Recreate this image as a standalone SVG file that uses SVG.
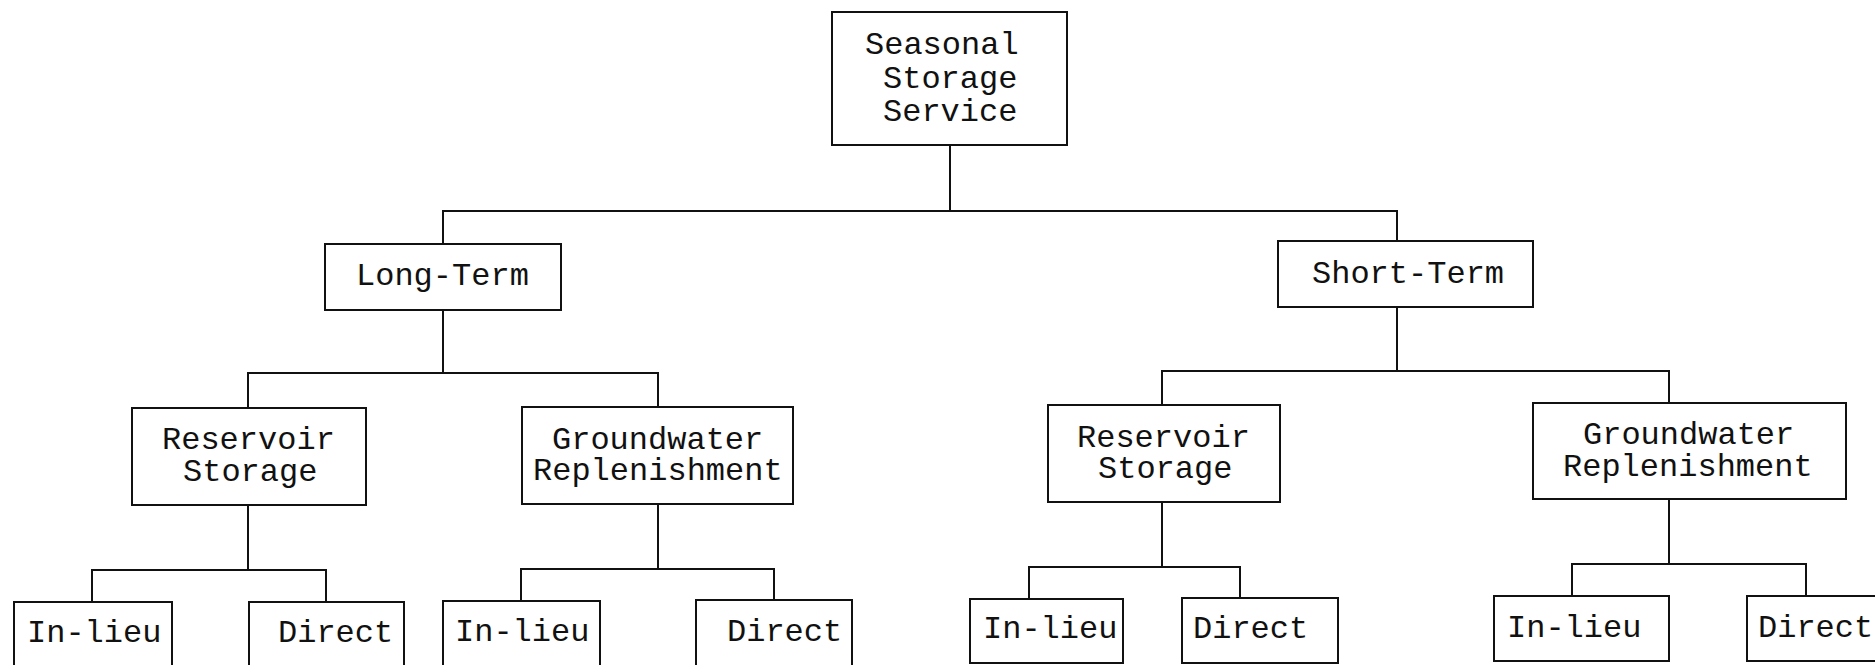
<svg xmlns="http://www.w3.org/2000/svg" width="1875" height="665" viewBox="0 0 1875 665">
<style>
.box{fill:#fff;stroke:#111;stroke-width:2}
.lbl{font-family:"Liberation Mono","DejaVu Sans Mono",monospace;font-size:32px;fill:#111}
.con{fill:none;stroke:#111;stroke-width:2}
</style>
<rect width="1875" height="665" fill="#fff"/>
<g id="connectors">
<path class="con" d="M950,145 V211"/>
<path class="con" d="M443,244 V211 H1397 V241"/>
<path class="con" d="M443,310 V373"/>
<path class="con" d="M248,408 V373 H658 V407"/>
<path class="con" d="M1397,307 V371"/>
<path class="con" d="M1162,405 V371 H1669 V403"/>
<path class="con" d="M248,505 V570"/>
<path class="con" d="M92,602 V570 H326 V602"/>
<path class="con" d="M658,504 V569"/>
<path class="con" d="M521,601 V569 H774 V600"/>
<path class="con" d="M1162,502 V567"/>
<path class="con" d="M1029,599 V567 H1240 V598"/>
<path class="con" d="M1669,499 V564"/>
<path class="con" d="M1572,596 V564 H1806 V596"/>
</g>
<g id="root">
<rect class="box" x="832" y="12" width="235" height="133"/>
<text class="lbl" x="865" y="54">Seasonal</text>
<text class="lbl" x="883" y="88">Storage</text>
<text class="lbl" x="883" y="121">Service</text>
</g>
<g id="long-term">
<rect class="box" x="325" y="244" width="236" height="66"/>
<text class="lbl" x="356" y="285">Long-Term</text>
</g>
<g id="short-term">
<rect class="box" x="1278" y="241" width="255" height="66"/>
<text class="lbl" x="1312" y="283">Short-Term</text>
</g>
<g id="lt-reservoir">
<rect class="box" x="132" y="408" width="234" height="97"/>
<text class="lbl" x="162" y="449">Reservoir</text>
<text class="lbl" x="183" y="481">Storage</text>
</g>
<g id="lt-groundwater">
<rect class="box" x="522" y="407" width="271" height="97"/>
<text class="lbl" x="552" y="449">Groundwater</text>
<text class="lbl" x="533" y="480">Replenishment</text>
</g>
<g id="st-reservoir">
<rect class="box" x="1048" y="405" width="232" height="97"/>
<text class="lbl" x="1077" y="447">Reservoir</text>
<text class="lbl" x="1098" y="478">Storage</text>
</g>
<g id="st-groundwater">
<rect class="box" x="1533" y="403" width="313" height="96"/>
<text class="lbl" x="1583" y="444">Groundwater</text>
<text class="lbl" x="1563" y="476">Replenishment</text>
</g>
<g id="lt-res-inlieu">
<rect class="box" x="14" y="602" width="158" height="80"/>
<text class="lbl" x="27" y="642">In-lieu</text>
</g>
<g id="lt-res-direct">
<rect class="box" x="249" y="602" width="155" height="80"/>
<text class="lbl" x="278" y="642">Direct</text>
</g>
<g id="lt-gw-inlieu">
<rect class="box" x="443" y="601" width="157" height="80"/>
<text class="lbl" x="455" y="641">In-lieu</text>
</g>
<g id="lt-gw-direct">
<rect class="box" x="696" y="600" width="156" height="80"/>
<text class="lbl" x="727" y="641">Direct</text>
</g>
<g id="st-res-inlieu">
<rect class="box" x="970" y="599" width="153" height="64"/>
<text class="lbl" x="983" y="638">In-lieu</text>
</g>
<g id="st-res-direct">
<rect class="box" x="1182" y="598" width="156" height="65"/>
<text class="lbl" x="1193" y="638">Direct</text>
</g>
<g id="st-gw-inlieu">
<rect class="box" x="1494" y="596" width="175" height="65"/>
<text class="lbl" x="1507" y="637">In-lieu</text>
</g>
<g id="st-gw-direct">
<rect class="box" x="1747" y="596" width="150" height="65"/>
<text class="lbl" x="1758" y="637">Direct</text>
</g>
</svg>
